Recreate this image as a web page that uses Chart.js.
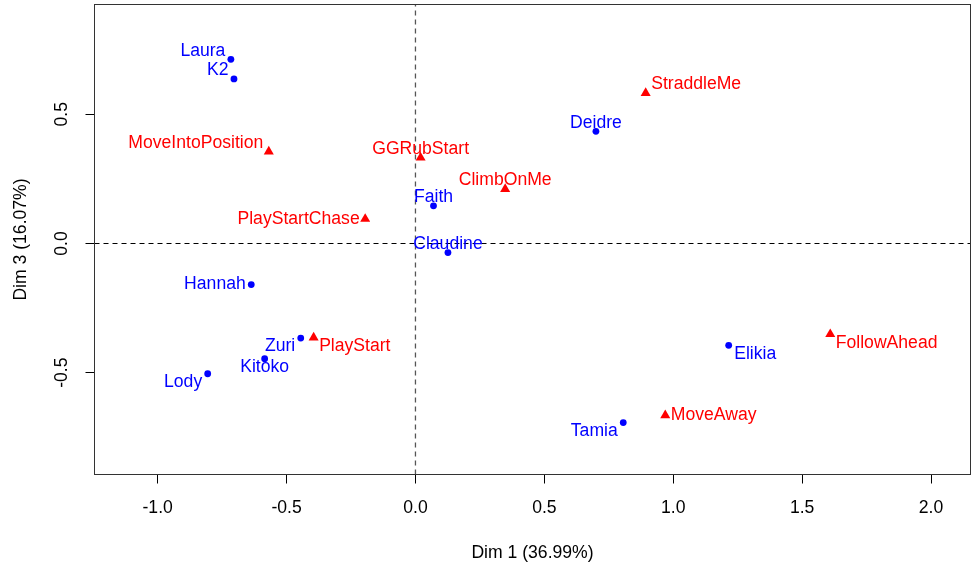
<!DOCTYPE html>
<html><head><meta charset="utf-8">
<script src="https://cdn.jsdelivr.net/npm/chart.js@4.4.0/dist/chart.umd.min.js"></script>
<style>html,body{margin:0;padding:0;background:#fff}#wrap{width:972px;height:564px}</style>
</head><body><div id="wrap"><canvas id="c" width="972" height="564"></canvas></div>
<script>
// individuals (blue dots)
const indNames = ['Laura','K2','Deidre','Faith','Claudine','Hannah','Zuri','Kitoko','Lody','Elikia','Tamia'];
const indX = [-0.716,-0.704,0.700,0.070,0.126,-0.637,-0.445,-0.585,-0.806,1.215,0.806];
const indY = [0.713,0.637,0.434,0.146,-0.035,-0.159,-0.366,-0.446,-0.504,-0.394,-0.693];
// variables (red triangles)
const varNames = ['MoveIntoPosition','GGRubStart','PlayStartChase','StraddleMe','ClimbOnMe','PlayStart','FollowAhead','MoveAway'];
const varX = [-0.569,0.020,-0.195,0.893,0.348,-0.395,1.609,0.969];
const varY = [0.356,0.332,0.095,0.582,0.211,-0.364,-0.351,-0.665];
// axes
const xTicks = [-1.0,-0.5,0.0,0.5,1.0,1.5,2.0];
const yTicks = [-0.5,0.0,0.5];
const xTitle = 'Dim 1 (36.99%)';
const yTitle = 'Dim 3 (16.07%)';
const xRange = [-1.245, 2.153];
const yRange = [-0.894, 0.925];

// label placement (layout only)
const indLabelPos = ['lt','lt','t','t','t','l','lb','b','lb','rb','lb'];
const varLabelPos = ['lt','t','l','rt','t','rb','rb','r'];

const FONT = 'Liberation Sans, Arial, Helvetica, sans-serif';
const FS = 17.6;

const labelPlugin = {
  id: 'pointLabels',
  afterDatasetsDraw(chart) {
    const ctx = chart.ctx;
    chart.data.datasets.forEach((ds, di) => {
      if (!ds.pointNames) return;
      const meta = chart.getDatasetMeta(di);
      ctx.save();
      ctx.font = FS + 'px ' + FONT;
      ctx.fillStyle = ds.labelColor;
      ctx.textBaseline = 'middle';
      meta.data.forEach((el, i) => {
        const pos = ds.labelPos[i];
        const dx = 5.5, dy = 8.5;
        let x = el.x, y = el.y, align = 'center';
        if (pos.includes('l')) { x -= dx; align = 'right'; }
        if (pos.includes('r')) { x += dx; align = 'left'; }
        if (pos.includes('t')) y -= dy;
        if (pos.includes('b')) y += dy;
        ctx.textAlign = align;
        ctx.fillText(ds.pointNames[i], x, y);
      });
      ctx.restore();
    });
  }
};

const boxPlugin = {
  id: 'box',
  afterDraw(chart) {
    const a = chart.chartArea, ctx = chart.ctx;
    ctx.save();
    ctx.strokeStyle = '#333';
    ctx.lineWidth = 1;
    ctx.strokeRect(a.left, a.top, a.right - a.left, a.bottom - a.top);
    ctx.restore();
  }
};

const font = {family: FONT, size: FS};

new Chart(document.getElementById('c'), {
  type: 'scatter',
  data: {
    datasets: [
      {
        type: 'line',
        data: [{x: xRange[0], y: 0}, {x: xRange[1], y: 0}],
        borderColor: '#000', borderWidth: 1, borderDash: [5, 4], pointRadius: 0, fill: false
      },
      {
        type: 'line',
        data: [{x: 0, y: yRange[0]}, {x: 0, y: yRange[1]}],
        borderColor: '#555', borderWidth: 1.3, borderDash: [5, 4], pointRadius: 0, fill: false
      },
      {
        data: indX.map((v, i) => ({x: v, y: indY[i]})),
        pointNames: indNames, labelPos: indLabelPos, labelColor: '#0000FF',
        pointStyle: 'circle', pointRadius: 3.4, backgroundColor: '#0000FF', borderColor: '#0000FF', borderWidth: 0
      },
      {
        data: varX.map((v, i) => ({x: v, y: varY[i]})),
        pointNames: varNames, labelPos: varLabelPos, labelColor: '#FF0000',
        pointStyle: 'triangle', pointRadius: 5.8, backgroundColor: '#FF0000', borderColor: '#FF0000', borderWidth: 0
      }
    ]
  },
  options: {
    responsive: false,
    animation: false,
    events: [],
    layout: {autoPadding: false, padding: {top: 4.5, right: 1.5, left: 0, bottom: 0}},
    plugins: {legend: {display: false}, tooltip: {enabled: false}},
    scales: {
      x: {
        type: 'linear', position: 'bottom', min: xRange[0], max: xRange[1],
        afterBuildTicks: s => { s.ticks = xTicks.map(v => ({value: v})); },
        afterFit: s => { s.height = 89.5; s.paddingLeft = 0; s.paddingRight = 0; },
        ticks: {font, color: '#000', padding: 14, callback: v => Number(v).toFixed(1), autoSkip: false, maxRotation: 0},
        grid: {drawOnChartArea: false, drawTicks: true, tickLength: 9, color: '#000'},
        border: {display: true, color: '#000'},
        title: {display: true, text: xTitle, font, color: '#000', padding: {top: 0, bottom: 0}}
      },
      y: {
        type: 'linear', position: 'left', min: yRange[0], max: yRange[1],
        afterBuildTicks: s => { s.ticks = yTicks.map(v => ({value: v})); },
        afterFit: s => { s.width = 94.5; s.paddingTop = 0; s.paddingBottom = 0; },
        ticks: {font, color: '#000', padding: 8, minRotation: 90, maxRotation: 90, crossAlign: 'center', callback: v => Number(v).toFixed(1), autoSkip: false},
        grid: {drawOnChartArea: false, drawTicks: true, tickLength: 9, color: '#000'},
        border: {display: true, color: '#000'},
        title: {display: true, text: yTitle, font, color: '#000', padding: {top: 10.5, bottom: 0}}
      }
    }
  },
  plugins: [labelPlugin, boxPlugin]
});
</script>
</body></html>
